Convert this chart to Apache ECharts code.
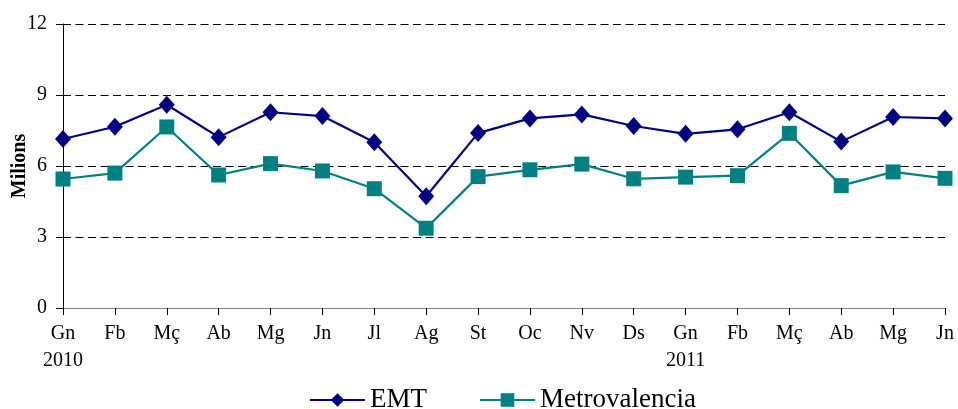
<!DOCTYPE html>
<html>
<head>
<meta charset="utf-8">
<script src="https://cdn.jsdelivr.net/npm/echarts@6/dist/echarts.min.js"></script>
<style>
  html, body { margin: 0; padding: 0; background: #fff; }
  #chart { width: 958px; height: 409px; }
</style>
</head>
<body>
<div id="chart"></div>
<script>
// months Gn 2010 .. Jn 2011
var months = ["Gn\n2010", "Fb", "Mç", "Ab", "Mg", "Jn", "Jl", "Ag", "St", "Oc", "Nv", "Ds",
  "Gn\n2011", "Fb", "Mç", "Ab", "Mg", "Jn"];
var emt = [7.14, 7.66, 8.59, 7.22, 8.27, 8.11, 7.0, 4.72, 7.39, 8.01, 8.18, 7.69,
  7.36, 7.55, 8.27, 7.03, 8.07, 8.01];
var metro = [5.45, 5.70, 7.65, 5.62, 6.10, 5.79, 5.04, 3.37, 5.55, 5.84, 6.08, 5.46,
  5.53, 5.59, 7.38, 5.17, 5.75, 5.48];

var font = "'Liberation Serif', 'Times New Roman', serif";
var myChart = echarts.init(document.getElementById("chart"));
var option = {
  animation: false,
  textStyle: { fontFamily: font },
  grid: { left: 63, right: 13, top: 24, bottom: 101, containLabel: false, outerBoundsMode: "none" },
  legend: {
    top: 381,
    left: 304,
    padding: 5,
    itemWidth: 55,
    itemHeight: 17,
    itemGap: 52,
    textStyle: { fontFamily: font, fontSize: 27, color: "#000", lineHeight: 28 },
    data: ["EMT", "Metrovalencia"]
  },
  xAxis: {
    type: "category",
    data: months,
    boundaryGap: false,
    axisLine: { lineStyle: { color: "#808080", width: 1 } },
    axisTick: { show: true, length: 7, lineStyle: { color: "#000" } },
    axisLabel: {
      fontFamily: font, fontSize: 20, color: "#000", margin: 12,
      lineHeight: 27, interval: 0
    },
    splitLine: { show: false }
  },
  yAxis: {
    type: "value",
    min: 0,
    max: 12,
    interval: 3,
    name: "Milions",
    nameLocation: "middle",
    nameGap: 33,
    nameMoveOverlap: false,
    nameTextStyle: { fontFamily: font, fontSize: 20, fontWeight: "bold", color: "#000" },
    axisLine: { show: true, lineStyle: { color: "#000", width: 1 } },
    axisTick: { show: true, length: 7, lineStyle: { color: "#000" } },
    axisLabel: { fontFamily: font, fontSize: 20, color: "#000", margin: 16 },
    splitLine: { show: true, lineStyle: { color: "#000", type: [8, 4.5], width: 1 } }
  },
  series: [
    {
      name: "EMT",
      type: "line",
      data: emt,
      symbol: "diamond",
      symbolSize: [16, 18],
      color: "#000080",
      lineStyle: { color: "#000080", width: 2.2 },
      itemStyle: { color: "#000080" }
    },
    {
      name: "Metrovalencia",
      type: "line",
      data: metro,
      symbol: "rect",
      symbolSize: 15,
      color: "#008080",
      lineStyle: { color: "#008080", width: 2.2 },
      itemStyle: { color: "#008080" }
    }
  ]
};
myChart.setOption(option);
</script>
</body>
</html>
